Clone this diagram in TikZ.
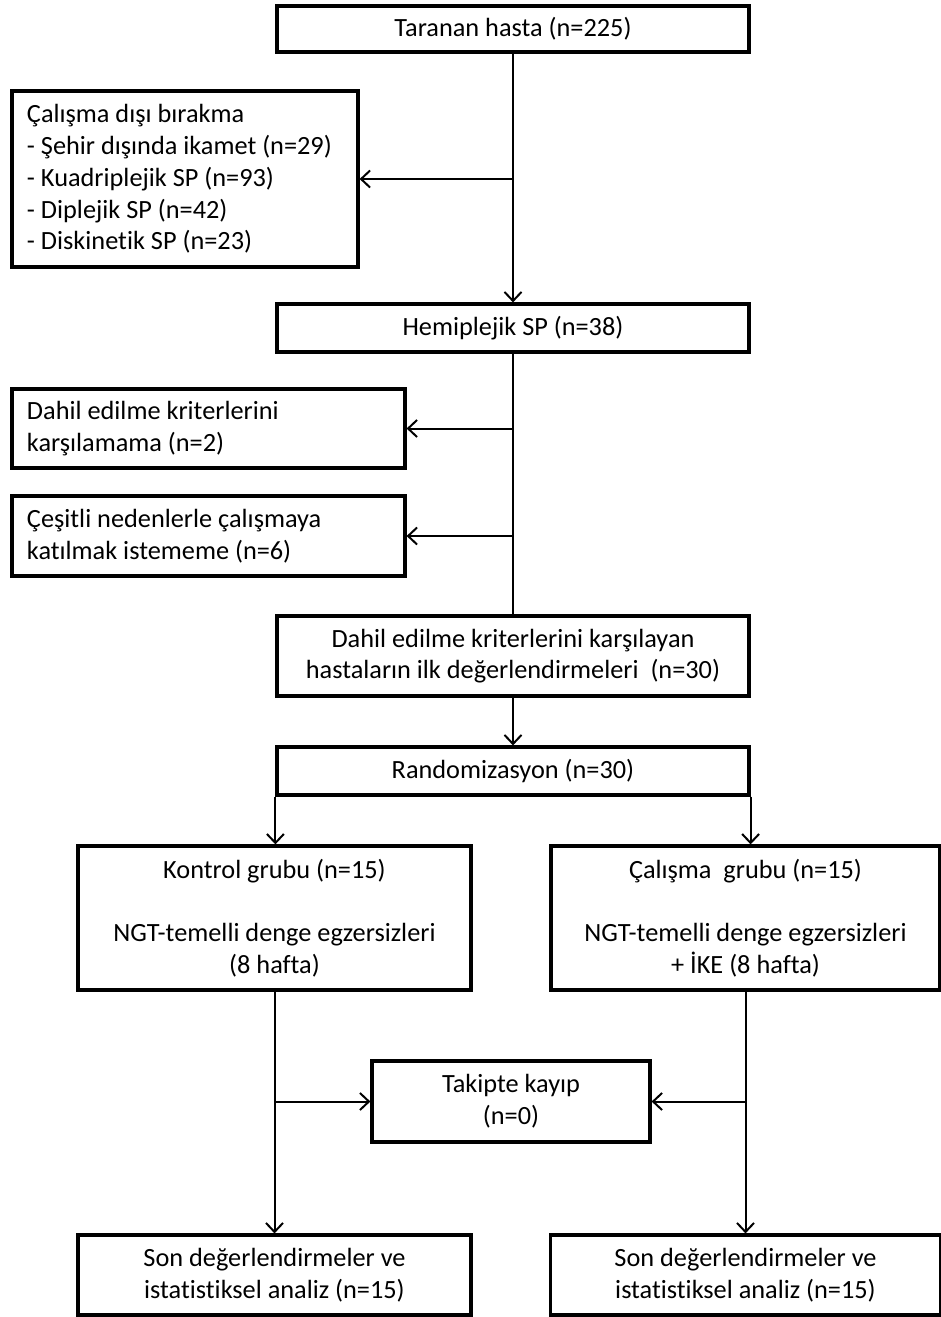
\documentclass[tikz,border=0pt]{standalone}
\usepackage{fontspec}
\setmainfont{Carlito}[Ligatures={NoCommon}]
\usetikzlibrary{arrows.meta}
\begin{document}
\begin{tikzpicture}[x=1pt,y=-1pt,
  box/.style={draw,line width=3.2pt,inner sep=0pt,font=\fontsize{26.3}{31.7}\selectfont},
  cbox/.style={box,align=center},
  lbox/.style={box,align=flush left,inner xsep=15pt},
  arr/.style={line width=2pt,-{Straight Barb[length=9pt,width=17pt,line width=2pt]}},
  ln/.style={line width=2pt}]
\useasboundingbox (0,0) rectangle (941,1317);
\node[cbox,minimum width=472pt,minimum height=46pt] (top) at (513,29) {Taranan hasta (n=225)};
\node[lbox,text width=316pt,minimum height=176pt] (excl) at (185,179) {Çalışma dışı bırakma\\- Şehir dışında ikamet (n=29)\\- Kuadriplejik SP (n=93)\\- Diplejik SP (n=42)\\- Diskinetik SP (n=23)};
\node[cbox,minimum width=472pt,minimum height=48pt] (hemi) at (513,328) {Hemiplejik SP (n=38)};
\node[lbox,text width=363pt,minimum height=79pt] (crit) at (208.5,428.5) {Dahil edilme kriterlerini\\karşılamama (n=2)};
\node[lbox,text width=363pt,minimum height=80pt] (ces) at (208.5,536) {Çeşitli nedenlerle çalışmaya\\katılmak istememe (n=6)};
\node[cbox,minimum width=472pt,minimum height=80pt] (dahil) at (513,656) {Dahil edilme kriterlerini karşılayan\\hastaların ilk değerlendirmeleri~ (n=30)};
\node[cbox,minimum width=472pt,minimum height=48pt] (rand) at (513,771) {Randomizasyon (n=30)};
\node[cbox,minimum width=393pt,minimum height=144pt] (kont) at (274.5,918) {Kontrol grubu (n=15)\\[31.7pt]NGT-temelli denge egzersizleri\\(8 hafta)};
\node[cbox,minimum width=389pt,minimum height=144pt] (cal) at (745.5,918) {Çalışma~ grubu (n=15)\\[31.7pt]NGT-temelli denge egzersizleri\\+ İKE (8 hafta)};
\node[cbox,minimum width=278pt,minimum height=81pt] (takip) at (511,1101.5) {Takipte kayıp\\(n=0)};
\node[cbox,minimum width=393pt,minimum height=80pt] (sonl) at (274.5,1275) {Son değerlendirmeler ve\\istatistiksel analiz (n=15)};
\node[cbox,minimum width=390pt,minimum height=80pt] (sonr) at (745.5,1275) {Son değerlendirmeler ve\\istatistiksel analiz (n=15)};
\draw[arr] (top.south) -- (hemi.north);
\draw[arr] (top.south |- excl.east) -- (excl.east);
\draw[ln] (hemi.south) -- (dahil.north);
\draw[arr] (hemi.south |- crit.east) -- (crit.east);
\draw[arr] (hemi.south |- ces.east) -- (ces.east);
\draw[arr] (dahil.south) -- (rand.north);
\draw[arr] (rand.south west) -- (rand.south west |- kont.north);
\draw[arr] (rand.south east) -- (rand.south east |- cal.north);
\draw[arr] (kont.south) -- (sonl.north);
\draw[arr] (cal.south) -- (sonr.north);
\draw[arr] (kont.south |- takip.west) -- (takip.west);
\draw[arr] (cal.south |- takip.east) -- (takip.east);
\end{tikzpicture}
\end{document}
